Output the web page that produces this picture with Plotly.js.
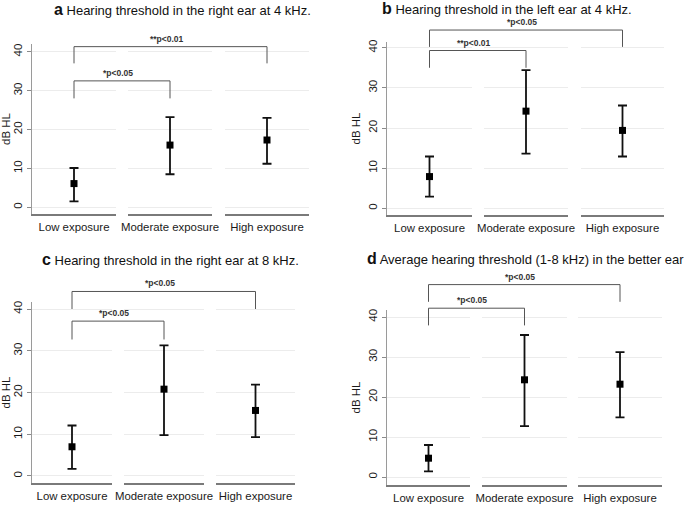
<!DOCTYPE html>
<html>
<head>
<meta charset="utf-8">
<script src="https://cdn.plot.ly/plotly-3.0.1.min.js"></script>
<style>
  html, body { margin: 0; padding: 0; background: #fff; }
  #chart { width: 685px; height: 507px; }
</style>
</head>
<body>
<div id="chart"></div>
<script>
// categories and panel texts
const categories = ["Low exposure", "Moderate exposure", "High exposure"];
const panelLetters = ["a", "b", "c", "d"];
const panelTitles = [
  "Hearing threshold in the right ear at 4 kHz.",
  "Hearing threshold in the left ear at 4 kHz.",
  "Hearing threshold in the right ear at 8 kHz.",
  "Average hearing threshold (1-8 kHz) in the better ear"
];

// means and confidence limits (dB HL)
const meanA = [6.1, 16.0, 17.3];
const lowA = [1.5, 8.5, 11.2];
const highA = [10.1, 23.2, 23.0];

const meanB = [7.9, 24.2, 19.4];
const lowB = [2.9, 13.6, 12.9];
const highB = [12.9, 34.4, 25.6];

const meanC = [7.0, 20.8, 15.7];
const lowC = [1.7, 9.8, 9.3];
const highC = [12.1, 31.3, 21.9];

const meanD = [4.7, 24.3, 23.2];
const lowD = [1.4, 12.7, 14.9];
const highD = [8.0, 35.5, 31.2];

// significance labels: [low vs moderate, low vs high]
const sigA = ["*p<0.05", "**p<0.01"];
const sigB = ["**p<0.01", "*p<0.05"];
const sigC = ["*p<0.05", "*p<0.05"];
const sigD = ["*p<0.05", "*p<0.05"];

const yTicks = [0, 10, 20, 30, 40];

// ---- layout geometry (pixels) ----
const W = 685, H = 507;
const panelX = [
  [[32, 116], [128, 212], [225, 309]],
  [[387, 472], [484, 568], [581, 664]],
  [[32, 112], [124, 204], [216, 295]],
  [[387, 470], [482, 567], [578, 662]]
];
const panelY = [[44, 214], [42, 215], [302, 483], [310, 485]];
const yRanges = [[-1.72, 41.98], [-1.67, 41.42], [-1.68, 41.68], [-2.0, 41.75]];
// bracket levels: [horizontal, leg end] for inner (low-mod) and outer (low-high)
const bracketLevels = [
  [[32.5, 28.0], [41.3, 37.0]],
  [[39.3, 35.0], [44.4, 40.2]],
  [[37.1, 32.7], [44.2, 40.0]],
  [[42.2, 37.9], [48.1, 43.8]]
];
const titlePos = [[52, 10], [380, 9], [40, 259], [365, 258]];

const means = [meanA, meanB, meanC, meanD];
const lows = [lowA, lowB, lowC, lowD];
const highs = [highA, highB, highC, highD];
const sigs = [sigA, sigB, sigC, sigD];

const FONT = "Liberation Sans, Arial, Helvetica, sans-serif";

const traces = [];
const layout = {
  width: W,
  height: H,
  margin: { l: 0, r: 0, t: 0, b: 0 },
  paper_bgcolor: "#fff",
  plot_bgcolor: "#fff",
  showlegend: false,
  font: { family: FONT, color: "#222" },
  shapes: [],
  annotations: []
};

function paperY(k, v) {
  const r = yRanges[k];
  const top = 1 - panelY[k][0] / H;
  const bot = 1 - panelY[k][1] / H;
  return bot + (v - r[0]) / (r[1] - r[0]) * (top - bot);
}
function centerX(k, i) {
  const d = panelX[k][i];
  return (d[0] + d[1]) / 2 / W;
}

for (let k = 0; k < 4; k++) {
  const yId = k === 0 ? "y" : "y" + (k + 1);
  const firstX = "x" + (k * 3 === 0 ? "" : k * 3 + 1);
  for (let i = 0; i < 3; i++) {
    const n = k * 3 + i + 1;
    const xId = n === 1 ? "x" : "x" + n;
    traces.push({
      type: "scatter",
      mode: "markers",
      x: [categories[i]],
      y: [means[k][i]],
      xaxis: xId,
      yaxis: yId,
      marker: { symbol: "square", size: 7, color: "#000" },
      error_y: {
        type: "data",
        symmetric: false,
        array: [highs[k][i] - means[k][i]],
        arrayminus: [means[k][i] - lows[k][i]],
        color: "#111",
        thickness: 1.8,
        width: 4.5
      },
      hoverinfo: "x+y"
    });
    layout[n === 1 ? "xaxis" : "xaxis" + n] = {
      domain: [panelX[k][i][0] / W, panelX[k][i][1] / W],
      anchor: yId,
      type: "category",
      range: [-0.5, 0.5],
      showline: true,
      linecolor: "#7a7a7a",
      linewidth: 1.5,
      showgrid: false,
      zeroline: false,
      ticks: "",
      ticklabelstandoff: 2,
      tickfont: { family: FONT, size: 11.4, color: "#1a1a1a" },
      fixedrange: true
    };
  }
  layout[k === 0 ? "yaxis" : "yaxis" + (k + 1)] = {
    domain: [1 - panelY[k][1] / H, 1 - panelY[k][0] / H],
    anchor: firstX,
    range: yRanges[k],
    tickvals: yTicks,
    ticktext: yTicks.map(String),
    tickangle: -90,
    ticks: "outside",
    ticklen: 4,
    tickcolor: "#8a8a8a",
    tickfont: { family: FONT, size: 11.5, color: "#1a1a1a" },
    showline: true,
    linecolor: "#9a9a9a",
    linewidth: 1.5,
    showgrid: true,
    gridcolor: "#ececec",
    gridwidth: 1,
    zeroline: false,
    fixedrange: true,
    title: { text: "dB HL", standoff: 4, font: { family: FONT, size: 11.5, color: "#1a1a1a" } }
  };

  // significance brackets
  const targets = [1, 2];
  for (let j = 0; j < 2; j++) {
    const lv = bracketLevels[k][j];
    const x0 = centerX(k, 0);
    const x1 = centerX(k, targets[j]);
    const yTop = paperY(k, lv[0]);
    const yLeg = paperY(k, lv[1]);
    layout.shapes.push({
      type: "path",
      xref: "paper",
      yref: "paper",
      path: "M" + x0 + "," + yLeg + " L" + x0 + "," + yTop + " L" + x1 + "," + yTop + " L" + x1 + "," + yLeg,
      line: { color: "#555", width: 1 }
    });
    layout.annotations.push({
      xref: "paper",
      yref: "paper",
      x: (x0 + x1) / 2,
      y: yTop,
      xanchor: "center",
      yanchor: "bottom",
      xshift: -4,
      yshift: 1,
      showarrow: false,
      text: "<b>" + sigs[k][j].replace("<", "&lt;") + "</b>",
      font: { family: FONT, size: 8.5, color: "#333" }
    });
  }

  // panel title
  layout.annotations.push({
    xref: "paper",
    yref: "paper",
    x: titlePos[k][0] / W,
    y: 1 - titlePos[k][1] / H,
    xanchor: "left",
    yanchor: "middle",
    showarrow: false,
    text: "<span style='font-size:16px'><b>" + panelLetters[k] + "</b></span> " + panelTitles[k],
    font: { family: FONT, size: 13, color: "#111" }
  });
}

Plotly.newPlot("chart", traces, layout, { displayModeBar: false, staticPlot: true });
</script>
</body>
</html>
